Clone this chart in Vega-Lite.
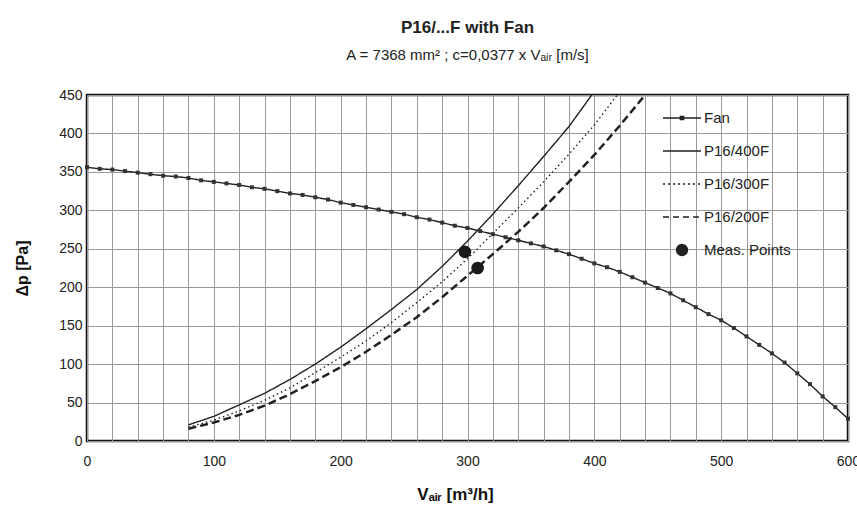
{
  "$schema": "https://vega.github.io/schema/vega-lite/v6.json",
  "width": 761,
  "height": 346,
  "autosize": {"type": "none"},
  "padding": {"left": 87, "top": 95, "right": 9, "bottom": 67},
  "background": "white",
  "title": {
    "text": "P16/...F with Fan",
    "subtitle": "A = 7368 mm² ; c=0,0377 x Vₐᵢᵣ  [m/s]",
    "font": "Liberation Sans",
    "fontSize": 17,
    "fontWeight": "bold",
    "color": "#222",
    "subtitleFont": "Liberation Sans",
    "subtitleFontSize": 15,
    "subtitleColor": "#222",
    "subtitlePadding": 11,
    "offset": 24,
    "anchor": "middle"
  },
  "config": {
    "view": {"stroke": "#111", "strokeWidth": 2.5},
    "font": "Liberation Sans",
    "axis": {
      "labelFont": "Liberation Sans",
      "labelFontSize": 14,
      "labelColor": "#222",
      "titleFont": "Liberation Sans",
      "titleFontWeight": "bold",
      "titleColor": "#111",
      "gridColor": "#999",
      "gridWidth": 1,
      "gridOpacity": 1,
      "domain": false,
      "ticks": false
    }
  },
  "datasets": {
    "curves": [
      {"series": "Fan", "v": 0, "p": 356}, {"series": "Fan", "v": 10, "p": 354}, {"series": "Fan", "v": 20, "p": 353}, {"series": "Fan", "v": 30, "p": 351}, {"series": "Fan", "v": 40, "p": 349}, {"series": "Fan", "v": 50, "p": 347}, {"series": "Fan", "v": 60, "p": 345}, {"series": "Fan", "v": 70, "p": 344}, {"series": "Fan", "v": 80, "p": 342}, {"series": "Fan", "v": 90, "p": 339}, {"series": "Fan", "v": 100, "p": 337}, {"series": "Fan", "v": 110, "p": 335}, {"series": "Fan", "v": 120, "p": 333}, {"series": "Fan", "v": 130, "p": 330}, {"series": "Fan", "v": 140, "p": 328}, {"series": "Fan", "v": 150, "p": 325}, {"series": "Fan", "v": 160, "p": 322}, {"series": "Fan", "v": 170, "p": 320}, {"series": "Fan", "v": 180, "p": 317}, {"series": "Fan", "v": 190, "p": 314}, {"series": "Fan", "v": 200, "p": 310}, {"series": "Fan", "v": 210, "p": 307}, {"series": "Fan", "v": 220, "p": 304}, {"series": "Fan", "v": 230, "p": 301}, {"series": "Fan", "v": 240, "p": 298}, {"series": "Fan", "v": 250, "p": 295}, {"series": "Fan", "v": 260, "p": 291}, {"series": "Fan", "v": 270, "p": 288}, {"series": "Fan", "v": 280, "p": 284}, {"series": "Fan", "v": 290, "p": 280}, {"series": "Fan", "v": 300, "p": 277}, {"series": "Fan", "v": 310, "p": 273}, {"series": "Fan", "v": 320, "p": 269}, {"series": "Fan", "v": 330, "p": 265}, {"series": "Fan", "v": 340, "p": 261}, {"series": "Fan", "v": 350, "p": 257}, {"series": "Fan", "v": 360, "p": 253}, {"series": "Fan", "v": 370, "p": 248}, {"series": "Fan", "v": 380, "p": 243}, {"series": "Fan", "v": 390, "p": 237}, {"series": "Fan", "v": 400, "p": 231}, {"series": "Fan", "v": 410, "p": 226}, {"series": "Fan", "v": 420, "p": 220}, {"series": "Fan", "v": 430, "p": 213}, {"series": "Fan", "v": 440, "p": 206}, {"series": "Fan", "v": 450, "p": 199}, {"series": "Fan", "v": 460, "p": 192}, {"series": "Fan", "v": 470, "p": 183}, {"series": "Fan", "v": 480, "p": 174}, {"series": "Fan", "v": 490, "p": 165}, {"series": "Fan", "v": 500, "p": 157}, {"series": "Fan", "v": 510, "p": 147}, {"series": "Fan", "v": 520, "p": 136}, {"series": "Fan", "v": 530, "p": 125}, {"series": "Fan", "v": 540, "p": 114}, {"series": "Fan", "v": 550, "p": 102}, {"series": "Fan", "v": 560, "p": 88}, {"series": "Fan", "v": 570, "p": 74}, {"series": "Fan", "v": 580, "p": 58}, {"series": "Fan", "v": 590, "p": 44}, {"series": "Fan", "v": 600, "p": 29},
      {"series": "P16/400F", "v": 80, "p": 21}, {"series": "P16/400F", "v": 100, "p": 32}, {"series": "P16/400F", "v": 120, "p": 47}, {"series": "P16/400F", "v": 140, "p": 62}, {"series": "P16/400F", "v": 160, "p": 80}, {"series": "P16/400F", "v": 180, "p": 100}, {"series": "P16/400F", "v": 200, "p": 122}, {"series": "P16/400F", "v": 220, "p": 146}, {"series": "P16/400F", "v": 240, "p": 171}, {"series": "P16/400F", "v": 260, "p": 197}, {"series": "P16/400F", "v": 280, "p": 227}, {"series": "P16/400F", "v": 300, "p": 260}, {"series": "P16/400F", "v": 320, "p": 295}, {"series": "P16/400F", "v": 340, "p": 332}, {"series": "P16/400F", "v": 360, "p": 370}, {"series": "P16/400F", "v": 380, "p": 409}, {"series": "P16/400F", "v": 398, "p": 450},
      {"series": "P16/300F", "v": 80, "p": 18}, {"series": "P16/300F", "v": 100, "p": 27}, {"series": "P16/300F", "v": 120, "p": 39}, {"series": "P16/300F", "v": 140, "p": 53}, {"series": "P16/300F", "v": 160, "p": 69}, {"series": "P16/300F", "v": 180, "p": 89}, {"series": "P16/300F", "v": 200, "p": 109}, {"series": "P16/300F", "v": 220, "p": 130}, {"series": "P16/300F", "v": 240, "p": 154}, {"series": "P16/300F", "v": 260, "p": 180}, {"series": "P16/300F", "v": 280, "p": 207}, {"series": "P16/300F", "v": 300, "p": 237}, {"series": "P16/300F", "v": 320, "p": 270}, {"series": "P16/300F", "v": 340, "p": 303}, {"series": "P16/300F", "v": 360, "p": 337}, {"series": "P16/300F", "v": 380, "p": 373}, {"series": "P16/300F", "v": 400, "p": 411}, {"series": "P16/300F", "v": 418, "p": 450},
      {"series": "P16/200F", "v": 80, "p": 16}, {"series": "P16/200F", "v": 100, "p": 24}, {"series": "P16/200F", "v": 120, "p": 34}, {"series": "P16/200F", "v": 140, "p": 46}, {"series": "P16/200F", "v": 160, "p": 61}, {"series": "P16/200F", "v": 180, "p": 78}, {"series": "P16/200F", "v": 200, "p": 96}, {"series": "P16/200F", "v": 220, "p": 116}, {"series": "P16/200F", "v": 240, "p": 138}, {"series": "P16/200F", "v": 260, "p": 161}, {"series": "P16/200F", "v": 280, "p": 187}, {"series": "P16/200F", "v": 300, "p": 215}, {"series": "P16/200F", "v": 320, "p": 243}, {"series": "P16/200F", "v": 340, "p": 272}, {"series": "P16/200F", "v": 360, "p": 303}, {"series": "P16/200F", "v": 380, "p": 337}, {"series": "P16/200F", "v": 400, "p": 372}, {"series": "P16/200F", "v": 420, "p": 410}, {"series": "P16/200F", "v": 440, "p": 450}
    ],
    "meas": [
      {"series": "Meas. Points", "v": 298, "p": 246},
      {"series": "Meas. Points", "v": 308, "p": 225}
    ]
  },
  "encoding": {
    "x": {
      "field": "v", "type": "quantitative",
      "scale": {"domain": [0, 600], "nice": false, "zero": false},
      "axis": {
        "title": "Vₐᵢᵣ [m³/h]",
        "titleFontSize": 17,
        "titlePadding": 18,
        "titleX": 368,
        "values": [0, 20, 40, 60, 80, 100, 120, 140, 160, 180, 200, 220, 240, 260, 280, 300, 320, 340, 360, 380, 400, 420, 440, 460, 480, 500, 520, 540, 560, 580, 600],
        "labelExpr": "datum.value % 100 === 0 ? datum.label : ''",
        "labelOverlap": false,
        "labelFlush": false,
        "labelPadding": 13,
        "format": "d",
        "grid": true
      }
    },
    "y": {
      "field": "p", "type": "quantitative",
      "scale": {"domain": [0, 450], "nice": false},
      "axis": {
        "title": "Δp  [Pa]",
        "titleFontSize": 16,
        "titlePadding": 28,
        "values": [0, 50, 100, 150, 200, 250, 300, 350, 400, 450],
        "labelOverlap": false,
        "labelPadding": 5,
        "grid": true
      }
    }
  },
  "layer": [
    {
      "data": {"name": "curves"},
      "transform": [{"filter": "datum.series !== 'P16/200F'"}],
      "mark": {"type": "line", "strokeCap": "butt", "strokeWidth": 1.4},
      "encoding": {
        "color": {
          "field": "series", "type": "nominal",
          "scale": {
            "domain": ["Fan", "P16/400F", "P16/300F", "P16/200F", "Meas. Points"],
            "range": ["#222222", "#222222", "#222222", "#222222", "#222222"]
          },
          "legend": {
            "title": null,
            "orient": "none",
            "legendX": 575,
            "legendY": 3,
            "padding": 0,
            "symbolSize": 1444,
            "labelFont": "Liberation Sans",
            "labelFontSize": 15,
            "labelColor": "#222",
            "labelOffset": 2,
            "rowPadding": 5,
            "symbolStrokeWidth": 1.3,
            "symbolStrokeColor": "#222",
            "symbolFillColor": "#222",
            "encode": {
              "symbols": {
                "update": {
                  "shape": {"signal": "datum.value === 'Meas. Points' ? 'circle' : (datum.value === 'Fan' ? 'M-1,0H1M-0.09,-0.09H0.09V0.09H-0.09Z' : 'stroke')"},
                  "strokeDash": {"signal": "datum.value === 'P16/300F' ? [2, 3] : (datum.value === 'P16/200F' ? [6, 4] : [1, 0])"},
                  "size": {"signal": "datum.value === 'Meas. Points' ? 121 : 1444"},
                  "fill": {"value": "#222"},
                  "stroke": {"value": "#222"}
                }
              }
            }
          }
        },
        "strokeDash": {
          "field": "series", "type": "nominal",
          "scale": {"domain": ["Fan", "P16/400F", "P16/300F"], "range": [[1, 0], [1, 0], [1.5, 3]]},
          "legend": null
        }
      }
    },
    {
      "data": {"name": "curves"},
      "transform": [{"filter": "datum.series === 'P16/200F'"}],
      "mark": {"type": "line", "strokeCap": "butt", "strokeWidth": 2.5, "strokeDash": [8, 4]},
      "encoding": {
        "color": {"field": "series", "type": "nominal"}
      }
    },
    {
      "data": {"name": "curves"},
      "transform": [{"filter": "datum.series === 'Fan'"}],
      "mark": {"type": "square", "size": 16, "filled": true, "color": "#333", "opacity": 1}
    },
    {
      "data": {"name": "meas"},
      "mark": {"type": "circle", "size": 160, "color": "#1a1a1a", "opacity": 1}
    }
  ]
}
